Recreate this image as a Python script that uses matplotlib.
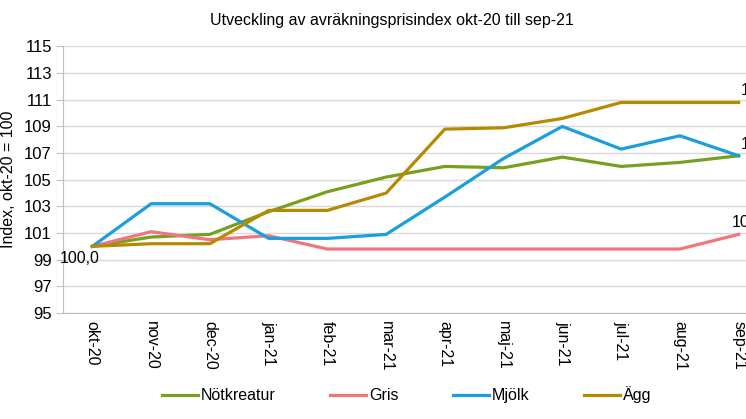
import matplotlib.pyplot as plt
import numpy as np

plt.rcParams['font.family'] = ['Liberation Sans', 'DejaVu Sans']

# data
months = ['okt-20', 'nov-20', 'dec-20', 'jan-21', 'feb-21', 'mar-21',
          'apr-21', 'maj-21', 'jun-21', 'jul-21', 'aug-21', 'sep-21']
notkreatur = [100.0, 100.7, 100.9, 102.6, 104.1, 105.2, 106.0, 105.9, 106.7, 106.0, 106.3, 106.8]
gris = [100.0, 101.1, 100.5, 100.8, 99.8, 99.8, 99.8, 99.8, 99.8, 99.8, 99.8, 100.9]
mjolk = [100.0, 103.2, 103.2, 100.6, 100.6, 100.9, 103.7, 106.6, 109.0, 107.3, 108.3, 106.8]
agg = [100.0, 100.2, 100.2, 102.7, 102.7, 104.0, 108.8, 108.9, 109.6, 110.8, 110.8, 110.8]

series = [('Nötkreatur', notkreatur, '#77a01e'),
          ('Gris', gris, '#f2747d'),
          ('Mjölk', mjolk, '#1a9fdc'),
          ('Ägg', agg, '#b58a00')]

fig = plt.figure(figsize=(7.46, 4.19), dpi=100)
# plot area runs past the right edge of the picture, as in the reference
ax = fig.add_axes([63/746, 1 - 313/419, 705/746, (313 - 46.5)/419])

x = np.arange(len(months))
for name, vals, col in series:
    ax.plot(x, vals, color=col, lw=2.3, label=name, solid_joinstyle='round')

ax.set_xlim(-0.5, len(months) - 0.5)
ax.set_ylim(95, 115)
ax.set_yticks(np.arange(95, 116, 2))
ax.set_xticks(x)
ax.set_xticklabels(months, rotation=-90, fontsize=11.5)
ax.tick_params(axis='x', length=0, pad=6)
ax.tick_params(axis='y', labelsize=12, length=5, color='#bfbfbf', pad=3)
ax.yaxis.grid(True, color='#d9d9d9', lw=1)
ax.set_axisbelow(True)
for s in ['top', 'right']:
    ax.spines[s].set_visible(False)
ax.spines['left'].set_color('#bfbfbf')
ax.spines['bottom'].set_color('#bfbfbf')
ax.set_ylabel('Index, okt-20 = 100', fontsize=11.5, labelpad=6)

# data labels (the right-hand ones are cut by the picture edge, as in the reference)
ax.text(x[0] - 0.55, 100.0 - 0.35, '100,0', fontsize=11.5, va='top', ha='left')
for vals, dx in [(agg, 0.03), (mjolk, 0.03), (gris, -0.11)]:
    ax.text(x[-1] + dx, vals[-1] + 0.3, f'{vals[-1]:.1f}'.replace('.', ','),
            fontsize=11.5, va='bottom', ha='left', clip_on=False)

fig.text(0.525, 0.95, 'Utveckling av avräkningsprisindex okt-20 till sep-21',
         ha='center', va='center', fontsize=11.5)

fig.legend(loc='center', bbox_to_anchor=(0.545, 0.058), ncol=4, frameon=False,
           fontsize=11.5, handlelength=2.25, handletextpad=0.2, columnspacing=3.4)

fig.savefig('out.png', dpi=100)
